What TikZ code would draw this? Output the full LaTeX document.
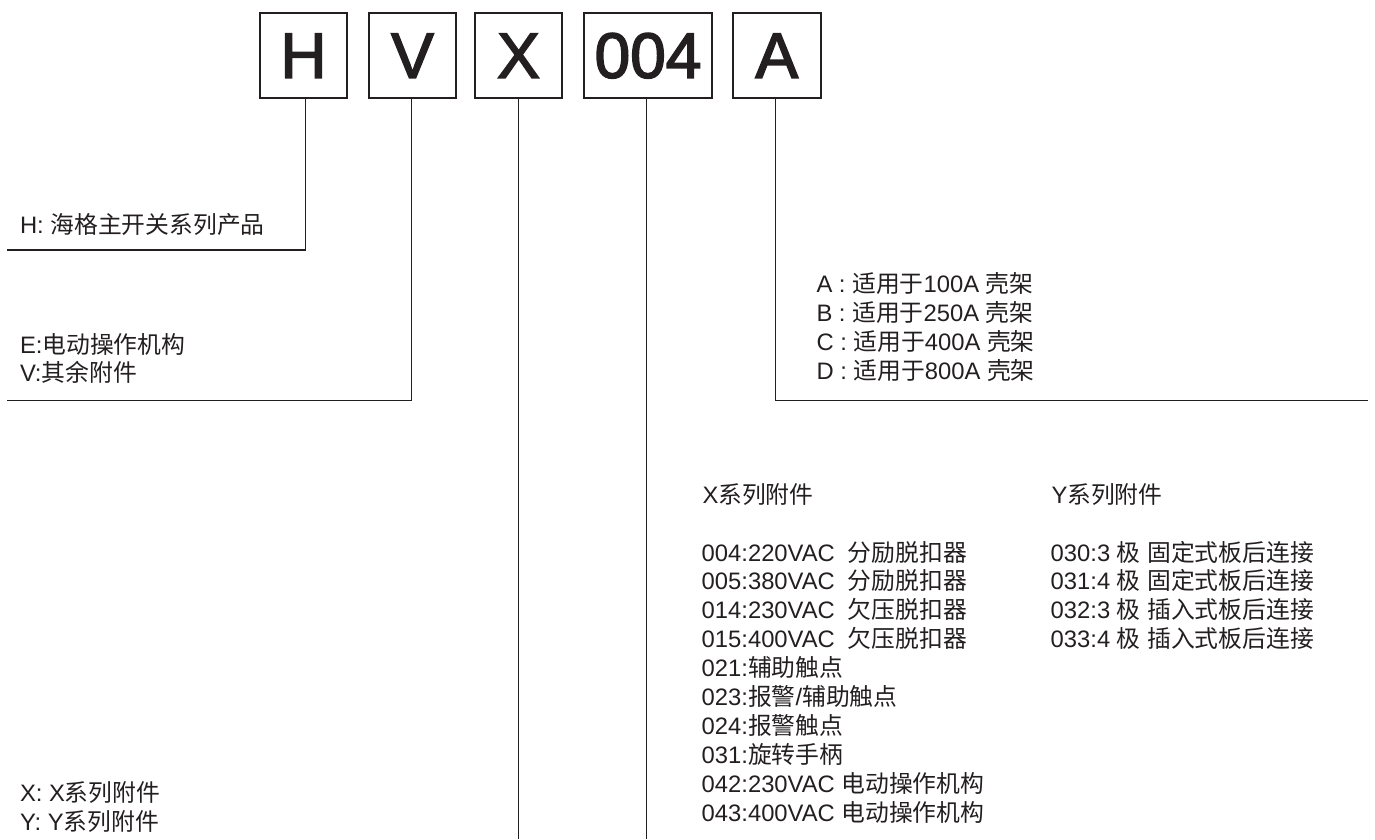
\documentclass[tikz,border=0pt]{standalone}
\usepackage{fontspec}
\setmainfont{Liberation Sans}
\newfontfamily\cjk{Noto Sans CJK SC}
\newfontfamily\bigfont[FakeBold=2.5]{Liberation Sans}
\newcommand{\zh}[1]{{\cjk #1}}
\definecolor{ink}{RGB}{35,31,32}
\begin{document}
\begin{tikzpicture}[x=1pt,y=-1pt,
  every node/.style={text=ink, inner sep=0pt, outer sep=0pt},
  codebox/.style={draw=ink, line width=2pt, minimum height=85pt,
    font=\bigfont\fontsize{64}{64}\selectfont},
  leg/.style={draw=ink, line width=1.2pt},
  desc/.style={anchor=base west, font=\fontsize{23.8}{28.9}\selectfont}]
\useasboundingbox (0,0) rectangle (1375,839);

% code boxes
\node[codebox, minimum width=87pt]    (hbox) at (303.5,55.7) {H};
\node[codebox, minimum width=87pt]    (vbox) at (412.5,55.7) {V};
\node[codebox, minimum width=87pt]    (xbox) at (518.5,55.7) {X};
\node[codebox, minimum width=128.6pt] (nbox) at (648,55.7) {004};
\node[codebox, minimum width=87.7pt]  (abox) at (776.8,55.7) {A};

% bend and end points
\coordinate (hbend) at (305.7,250);
\coordinate (hend)  at (7,250);
\coordinate (vbend) at (411.7,400.7);
\coordinate (vend)  at (7,400.7);
\coordinate (xend)  at (518.7,839);
\coordinate (nend)  at (646.7,839);
\coordinate (abend) at (775.7,400.7);
\coordinate (aend)  at (1368,400.7);

% connectors
\draw[leg] (hbox.south -| hbend) -- (hbend) -- (hend);
\draw[leg] (vbox.south -| vbend) -- (vbend) -- (vend);
\draw[leg] (xbox.south -| xend) -- (xend);
\draw[leg] (nbox.south -| nend) -- (nend);
\draw[leg] (abox.south -| abend) -- (abend) -- (aend);

% descriptions
\node[desc] (htext) at (20,233.3) {H: \zh{海格主开关系列产品}};
\node[desc] (vtext) at (20,353) {\begin{tabular}[t]{@{}l@{}}E:\zh{电动操作机构}\\V:\zh{其余附件}\end{tabular}};
\node[desc] (xytext) at (20,801.7) {\begin{tabular}[t]{@{}l@{}}X: X\zh{系列附件}\\Y: Y\zh{系列附件}\end{tabular}};
\node[desc] (atext) at (816.5,292.3) {\begin{tabular}[t]{@{}l@{}}A : \zh{适用于}100A \zh{壳架}\\B : \zh{适用于}250A \zh{壳架}\\C : \zh{适用于}400A \zh{壳架}\\D : \zh{适用于}800A \zh{壳架}\end{tabular}};

\node[desc] (xtitle) at (702.5,503.3) {X\zh{系列附件}};
\node[desc] (xlist) at (701.7,561) {\begin{tabular}[t]{@{}l@{}}
004:220VAC\hspace{13pt}\zh{分励脱扣器}\\
005:380VAC\hspace{13pt}\zh{分励脱扣器}\\
014:230VAC\hspace{13pt}\zh{欠压脱扣器}\\
015:400VAC\hspace{13pt}\zh{欠压脱扣器}\\
021:\zh{辅助触点}\\
023:\zh{报警}/\zh{辅助触点}\\
024:\zh{报警触点}\\
031:\zh{旋转手柄}\\
042:230VAC \zh{电动操作机构}\\
043:400VAC \zh{电动操作机构}\end{tabular}};

\node[desc] (ytitle) at (1051.5,503.3) {Y\zh{系列附件}};
\node[desc] (ylist) at (1050.7,561) {\begin{tabular}[t]{@{}l@{}}
030:3 \zh{极} \zh{固定式板后连接}\\
031:4 \zh{极} \zh{固定式板后连接}\\
032:3 \zh{极} \zh{插入式板后连接}\\
033:4 \zh{极} \zh{插入式板后连接}\end{tabular}};
\end{tikzpicture}
\end{document}
